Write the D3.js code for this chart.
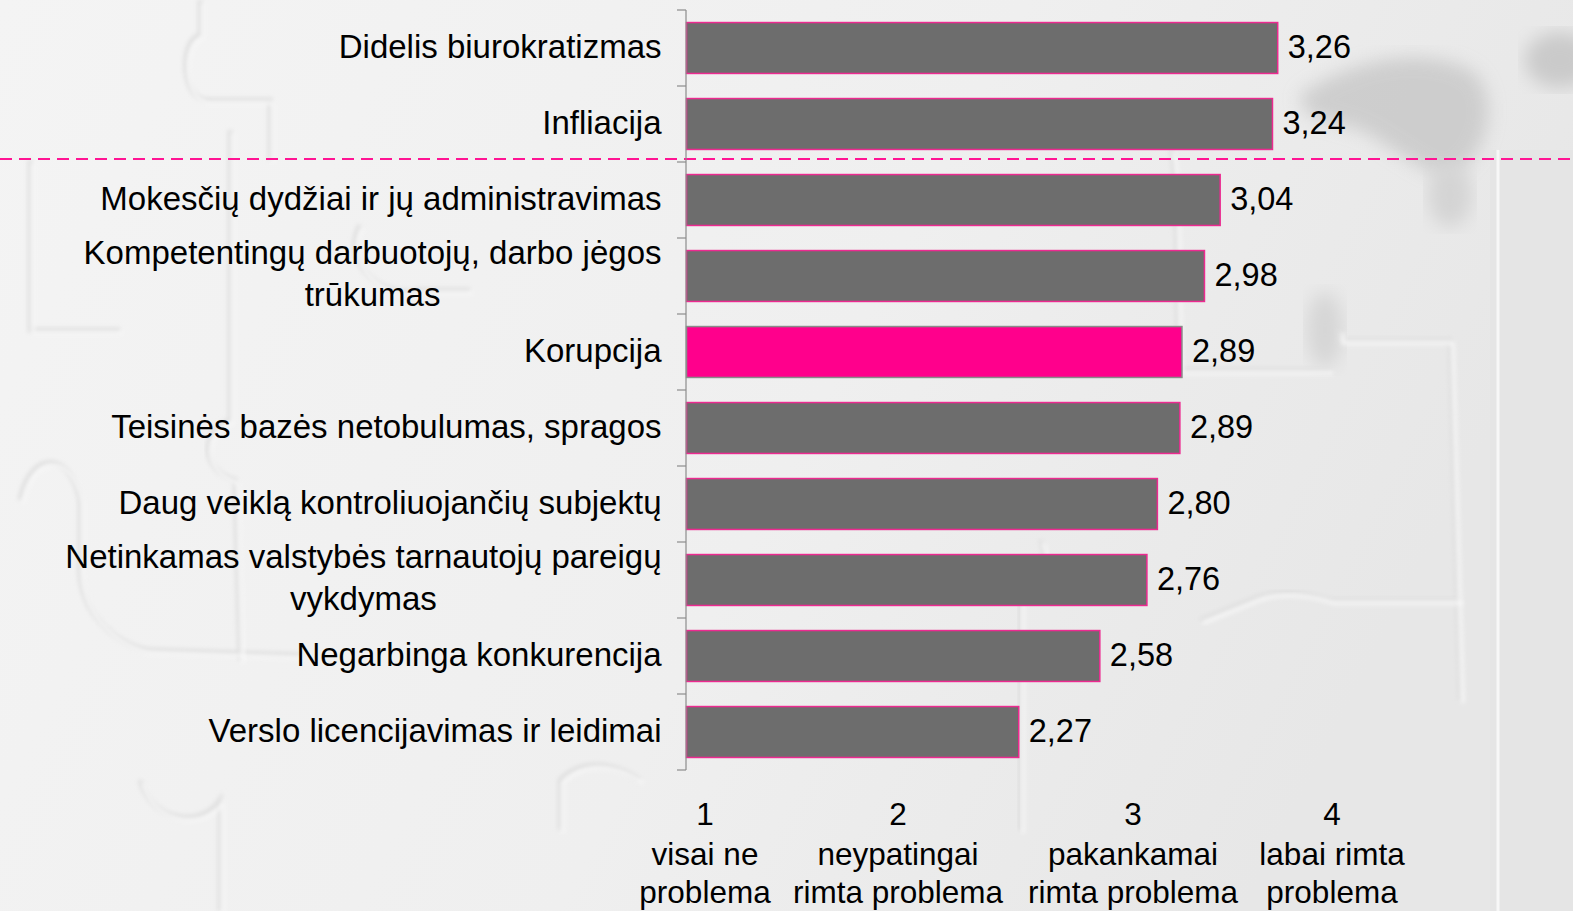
<!DOCTYPE html>
<html lang="lt">
<head>
  <meta charset="UTF-8">
  <title>Verslo problemos</title>
  <script src="https://d3js.org/d3.v7.min.js"></script>
  <style>
    body {
      margin: 0;
      background: #efefef;
      font-family: 'Liberation Sans', Arial, sans-serif;
    }
    svg { display: block; }
    .cat { font-size: 33px; fill: #000; }
    .val { font-size: 32.5px; fill: #000; }
    .scale-lbl { font-size: 31.5px; fill: #000; }
    .axis-line { stroke: #8c8c8c; stroke-width: 1.2; }
  </style>
</head>
<body>
  <svg width="1573" height="911"></svg>
  <script>
    // problemos (iš viršaus į apačią)
    const categories = [
      "Didelis biurokratizmas",
      "Infliacija",
      "Mokesčių dydžiai ir jų administravimas",
      "Kompetentingų darbuotojų, darbo jėgos\ntrūkumas",
      "Korupcija",
      "Teisinės bazės netobulumas, spragos",
      "Daug veiklą kontroliuojančių subjektų",
      "Netinkamas valstybės tarnautojų pareigų\nvykdymas",
      "Negarbinga konkurencija",
      "Verslo licencijavimas ir leidimai"
    ];
    const values = [3.26, 3.24, 3.04, 2.98, 2.894, 2.886, 2.80, 2.76, 2.58, 2.27];
    const highlight = "Korupcija";

    // vertinimo skalė apačioje
    const scaleNums = ["1", "2", "3", "4"];
    const scaleTexts = [
      ["visai ne", "problema"],
      ["neypatingai", "rimta problema"],
      ["pakankamai", "rimta problema"],
      ["labai rimta", "problema"]
    ];

    const W = 1573, H = 911;
    const svg = d3.select("svg");

    // ---- background (light puzzle texture) ----
    const defs = svg.append("defs");
    defs.append("filter").attr("id", "blur8")
      .append("feGaussianBlur").attr("stdDeviation", 9);
    defs.append("filter").attr("id", "blur2")
      .append("feGaussianBlur").attr("stdDeviation", 2);
    const bgGrad = defs.append("linearGradient").attr("id", "bg")
      .attr("x1", 0).attr("y1", 0).attr("x2", 1).attr("y2", 0.3);
    bgGrad.append("stop").attr("offset", "0%").attr("stop-color", "#f4f4f4");
    bgGrad.append("stop").attr("offset", "60%").attr("stop-color", "#efefef");
    bgGrad.append("stop").attr("offset", "100%").attr("stop-color", "#e7e7e7");

    svg.append("rect").attr("width", W).attr("height", H).attr("fill", "url(#bg)");

    const bg = svg.append("g").attr("class", "texture");
    // shadowy blobs top right
    bg.append("path")
      .attr("d", "M1300,95 C1350,60 1420,45 1470,70 C1500,90 1490,150 1460,170 C1440,190 1400,150 1360,130 C1330,120 1300,120 1300,95 Z")
      .attr("fill", "#c2c2c2").attr("filter", "url(#blur8)").attr("opacity", 0.7);
    bg.append("ellipse").attr("cx", 1560).attr("cy", 60).attr("rx", 35).attr("ry", 28)
      .attr("fill", "#cacaca").attr("filter", "url(#blur8)");
    bg.append("ellipse").attr("cx", 1325).attr("cy", 330).attr("rx", 18).attr("ry", 38)
      .attr("fill", "#d6d6d6").attr("filter", "url(#blur8)");
    bg.append("ellipse").attr("cx", 1450).attr("cy", 195).attr("rx", 22).attr("ry", 32)
      .attr("fill", "#d4d4d4").attr("filter", "url(#blur8)");
    bg.append("rect").attr("x", 1490).attr("y", 150).attr("width", 83).attr("height", 761)
      .attr("fill", "#e5e5e5");
    bg.append("line").attr("x1", 1498).attr("x2", 1498).attr("y1", 150).attr("y2", 911)
      .attr("stroke", "#f7f7f7").attr("stroke-width", 3);

    // faint puzzle outlines
    const puzzle = [
      "M200,0 L200,35 C180,40 180,95 205,100 L270,100 L270,160",
      "M230,130 L230,420 C200,430 200,470 235,480 L240,660",
      "M20,500 C30,450 70,450 80,500 L80,560 C75,620 130,650 150,650 L300,655",
      "M30,160 L30,330 L120,330",
      "M360,225 C340,260 380,300 420,290 L470,290",
      "M560,830 L560,780 C580,760 610,760 640,780",
      "M1170,150 C1180,160 1175,360 1180,370 L1330,370",
      "M1340,330 L1340,340 L1450,340 L1460,700",
      "M1020,830 L1020,600 C1040,580 1050,560 1040,540",
      "M1200,620 L1250,600 C1270,590 1300,590 1330,600 L1460,600",
      "M140,780 C150,820 200,830 220,800 L220,911",
      "M420,840 L420,911",
      "M920,680 L1080,680"
    ];
    bg.selectAll("path.pz").data(puzzle).enter().append("path")
      .attr("class", "pz").attr("d", d => d)
      .attr("fill", "none").attr("stroke", "#e0e0e0").attr("stroke-width", 5)
      .attr("filter", "url(#blur2)");
    bg.selectAll("path.pzw").data(puzzle).enter().append("path")
      .attr("class", "pzw").attr("d", d => d)
      .attr("transform", "translate(3,3)")
      .attr("fill", "none").attr("stroke", "#f9f9f9").attr("stroke-width", 3)
      .attr("filter", "url(#blur2)");

    // ---- scales ----
    const x = d3.scaleLinear().domain([1, 4]).range([686.5, 1471.3]);
    const y = d3.scaleBand().domain(categories).range([10, 770])
      .paddingInner(0.33).paddingOuter(0.165);
    const gap = (y.step() - y.bandwidth()) / 2;

    // dashed separator between top two and the rest
    svg.append("line")
      .attr("x1", 0).attr("x2", W)
      .attr("y1", y(categories[2]) - gap - 3)
      .attr("y2", y(categories[2]) - gap - 3)
      .attr("stroke", "#ff1493").attr("stroke-width", 2)
      .attr("stroke-dasharray", "12,7");

    // ---- bars ----
    const data = categories.map((c, i) => ({ cat: c, v: values[i] }));

    svg.selectAll("rect.bar").data(data).enter().append("rect")
      .attr("class", "bar")
      .attr("x", x(1))
      .attr("y", d => y(d.cat))
      .attr("width", d => x(d.v) - x(1))
      .attr("height", y.bandwidth())
      .attr("fill", d => d.cat === highlight ? "#ff008c" : "#6d6d6d")
      .attr("stroke", d => d.cat === highlight ? "#8a8a8a" : "#ec2a90")
      .attr("stroke-width", 1.5);

    // ---- axis with ticks at band boundaries ----
    const axisG = svg.append("g");
    axisG.append("line").attr("class", "axis-line")
      .attr("x1", x(1) - 0.5).attr("x2", x(1) - 0.5)
      .attr("y1", y.range()[0]).attr("y2", y.range()[1]);
    const boundaries = categories.map(c => y(c) - gap).concat([y.range()[1]]);
    axisG.selectAll("line.tick").data(boundaries).enter().append("line")
      .attr("class", "axis-line")
      .attr("x1", x(1) - 9.5).attr("x2", x(1) - 0.5)
      .attr("y1", d => d).attr("y2", d => d);

    // ---- category labels ----
    const labelRight = x(1) - 25;
    const catG = svg.selectAll("g.cat").data(data).enter().append("g")
      .attr("transform", d => `translate(0,${y(d.cat) + y.bandwidth() / 2})`);
    catG.each(function(d) {
      const g = d3.select(this);
      const lines = d.cat.split("\n");
      if (lines.length === 1) {
        g.append("text").attr("class", "cat")
          .attr("x", labelRight).attr("dy", "0.3em")
          .attr("text-anchor", "end").text(lines[0]);
      } else {
        const t1 = g.append("text").attr("class", "cat")
          .attr("x", labelRight).attr("y", -22).attr("dy", "0.3em")
          .attr("text-anchor", "end").text(lines[0]);
        const w = t1.node().getComputedTextLength();
        g.append("text").attr("class", "cat")
          .attr("x", labelRight - w / 2).attr("y", 20).attr("dy", "0.3em")
          .attr("text-anchor", "middle").text(lines[1]);
      }
    });

    // ---- value labels ----
    const fmt = v => v.toFixed(2).replace(".", ",");
    svg.selectAll("text.val").data(data).enter().append("text")
      .attr("class", "val")
      .attr("x", d => x(d.v) + 10)
      .attr("y", d => y(d.cat) + y.bandwidth() / 2)
      .attr("dy", "0.3em")
      .text(d => fmt(d.v));

    // ---- rating scale labels under the chart ----
    const sx = d3.scaleOrdinal().domain(scaleNums).range([705, 898, 1133, 1332]);
    const sG = svg.selectAll("g.scale").data(scaleNums).enter().append("g")
      .attr("transform", d => `translate(${sx(d)},0)`);
    sG.append("text").attr("class", "scale-lbl")
      .attr("text-anchor", "middle").attr("y", 825).text(d => d);
    sG.append("text").attr("class", "scale-lbl")
      .attr("text-anchor", "middle").attr("y", 865).text((d, i) => scaleTexts[i][0]);
    sG.append("text").attr("class", "scale-lbl")
      .attr("text-anchor", "middle").attr("y", 903).text((d, i) => scaleTexts[i][1]);
  </script>
</body>
</html>
